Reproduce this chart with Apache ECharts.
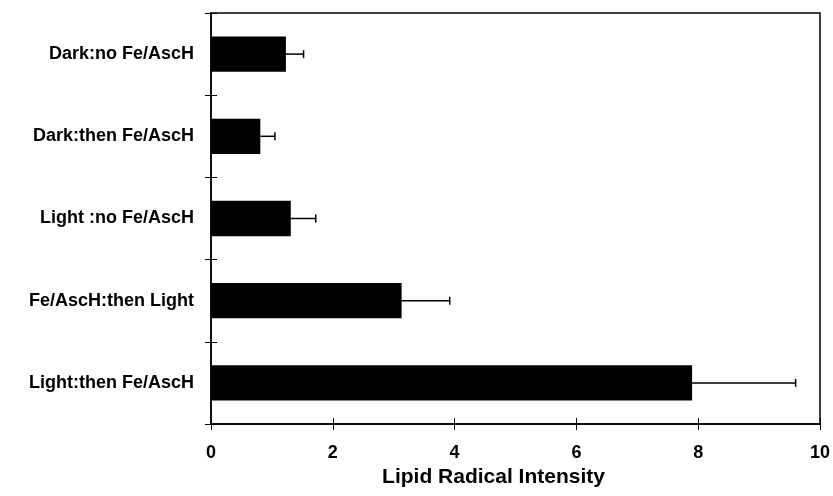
<!DOCTYPE html>
<html>
<head>
<meta charset="utf-8">
<script src="https://cdn.jsdelivr.net/npm/echarts@6/dist/echarts.min.js"></script>
<style>html,body{margin:0;padding:0;background:#fff;}#c{width:833px;height:496px;}</style>
</head>
<body>
<div id="c"></div>
<script>
var categories = ['Dark:no Fe/AscH', 'Dark:then Fe/AscH', 'Light :no Fe/AscH', 'Fe/AscH:then Light', 'Light:then Fe/AscH'];
var values = [1.23, 0.81, 1.31, 3.13, 7.9];
var errors = [0.29, 0.24, 0.41, 0.79, 1.7];
var xTicks = [0, 2, 4, 6, 8, 10];
var xTitle = 'Lipid Radical Intensity';

var chart = echarts.init(document.getElementById('c'));
var font = 'Liberation Sans';
var errData = values.map(function (v, i) { return [v, i, v + errors[i]]; });

chart.setOption({
  animation: false,
  grid: { left: 211, right: 11, top: 13, bottom: 72, show: true, borderColor: '#000', borderWidth: 1.5, backgroundColor: 'transparent' },
  xAxis: [{
    type: 'value', min: xTicks[0], max: xTicks[xTicks.length - 1], interval: 2,
    name: xTitle, nameLocation: 'middle', nameGap: 35,
    nameTextStyle: { fontFamily: font, fontWeight: 'bold', fontSize: 21, color: '#000', padding: [0, 44, 0, 0] },
    axisLine: { show: true, lineStyle: { color: '#000', width: 1.5 } },
    axisTick: { show: true, length: 6, lineStyle: { color: '#000', width: 1 } },
    axisLabel: { fontFamily: font, fontWeight: 'bold', fontSize: 18, color: '#000', margin: 20 },
    splitLine: { show: false }
  }, {
    type: 'value', min: xTicks[0], max: xTicks[xTicks.length - 1], interval: 2, position: 'bottom',
    axisLine: { show: false }, axisLabel: { show: false }, splitLine: { show: false },
    axisTick: { show: true, inside: true, length: 6, lineStyle: { color: '#000', width: 1 } }
  }],
  yAxis: [{
    type: 'category', data: categories, inverse: true,
    axisLine: { show: true, lineStyle: { color: '#000', width: 1.5 } },
    axisTick: { show: true, length: 6, lineStyle: { color: '#000', width: 1 } },
    axisLabel: { fontFamily: font, fontWeight: 'bold', fontSize: 18, color: '#000', margin: 17 }
  }, {
    type: 'category', data: categories, inverse: true, position: 'left',
    axisLine: { show: false }, axisLabel: { show: false },
    axisTick: { show: true, inside: true, length: 6, lineStyle: { color: '#000', width: 1 } }
  }],
  series: [{
    type: 'bar', data: values, barWidth: '43%',
    itemStyle: { color: '#000' }
  }, {
    type: 'custom', data: errData,
    renderItem: function (params, api) {
      var s = api.coord([api.value(0), api.value(1)]);
      var e = api.coord([api.value(2), api.value(1)]);
      var cap = 4;
      return {
        type: 'group',
        children: [
          { type: 'line', shape: { x1: s[0], y1: s[1], x2: e[0], y2: e[1] }, style: { stroke: '#000', lineWidth: 1.5 } },
          { type: 'line', shape: { x1: e[0], y1: e[1] - cap, x2: e[0], y2: e[1] + cap }, style: { stroke: '#000', lineWidth: 1.5 } }
        ]
      };
    },
    z: 3
  }]
});
</script>
</body>
</html>
